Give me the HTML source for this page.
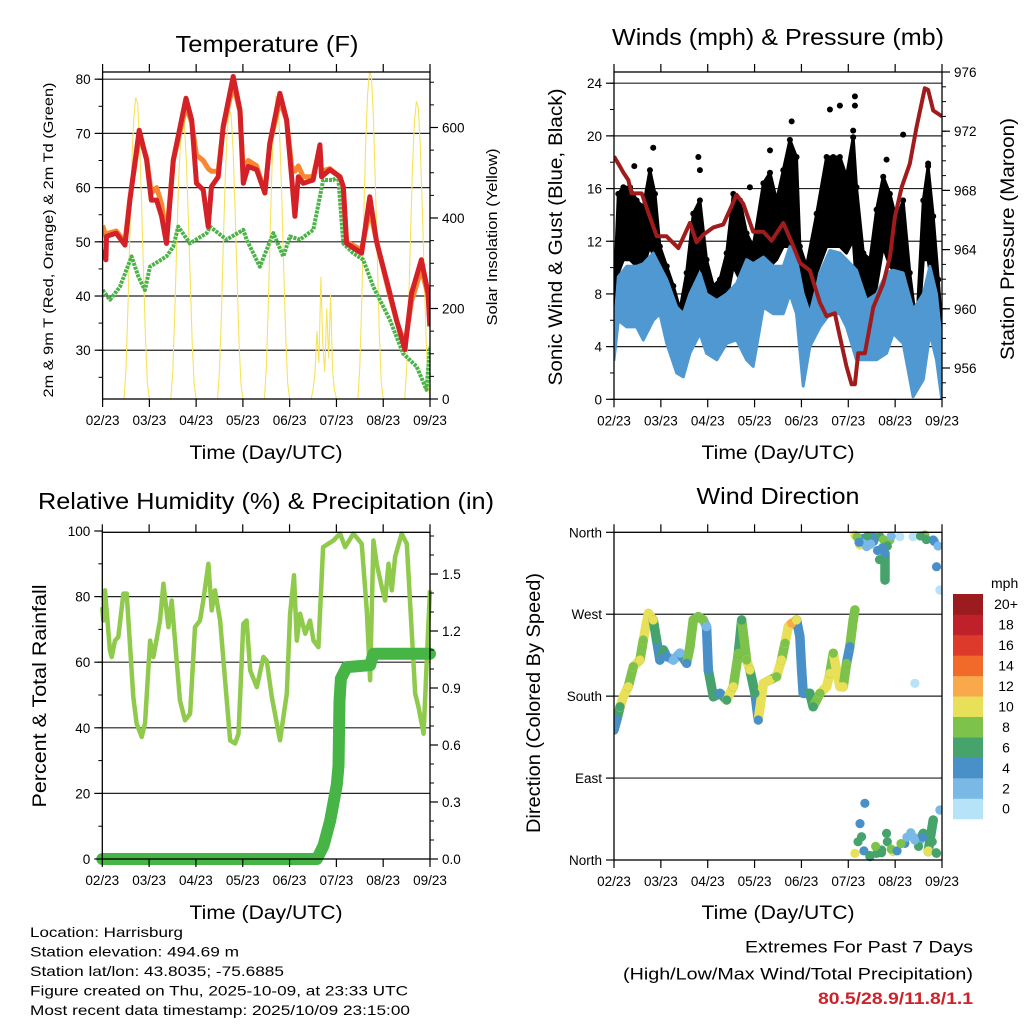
<!DOCTYPE html>
<html><head><meta charset="utf-8"><title>Station Meteogram</title>
<style>
html,body{margin:0;padding:0;background:#fff;}
svg{display:block;font-family:"Liberation Sans",Arial,sans-serif;}
</style></head>
<body>
<svg id="chart" xmlns="http://www.w3.org/2000/svg" width="1024" height="1024" viewBox="0 0 1024 1024">
<rect x="0" y="0" width="1024" height="1024" fill="#fff"/>
<g id="layer"></g>
<g id="texts" fill="#000">
  <text x="267" y="52" font-size="23" text-anchor="middle" textLength="183" lengthAdjust="spacingAndGlyphs">Temperature (F)</text>
  <text x="778" y="45" font-size="23" text-anchor="middle" textLength="332" lengthAdjust="spacingAndGlyphs">Winds (mph) &amp; Pressure (mb)</text>
  <text x="266" y="509" font-size="23" text-anchor="middle" textLength="456" lengthAdjust="spacingAndGlyphs">Relative Humidity (%) &amp; Precipitation (in)</text>
  <text x="778" y="504" font-size="23" text-anchor="middle" textLength="163" lengthAdjust="spacingAndGlyphs">Wind Direction</text>

  <text x="266" y="459" font-size="19" text-anchor="middle" textLength="153" lengthAdjust="spacingAndGlyphs">Time (Day/UTC)</text>
  <text x="778" y="459" font-size="19" text-anchor="middle" textLength="153" lengthAdjust="spacingAndGlyphs">Time (Day/UTC)</text>
  <text x="266" y="919" font-size="19" text-anchor="middle" textLength="153" lengthAdjust="spacingAndGlyphs">Time (Day/UTC)</text>
  <text x="778" y="919" font-size="19" text-anchor="middle" textLength="153" lengthAdjust="spacingAndGlyphs">Time (Day/UTC)</text>

  <text transform="translate(53,240) rotate(-90)" font-size="14" text-anchor="middle" textLength="315" lengthAdjust="spacingAndGlyphs">2m &amp; 9m T (Red, Orange) &amp; 2m Td (Green)</text>
  <text transform="translate(497,237) rotate(-90)" font-size="15" text-anchor="middle" textLength="177" lengthAdjust="spacingAndGlyphs">Solar Insolation (Yellow)</text>
  <text transform="translate(562,237) rotate(-90)" font-size="19" text-anchor="middle" textLength="297" lengthAdjust="spacingAndGlyphs">Sonic Wind &amp; Gust (Blue, Black)</text>
  <text transform="translate(1014,239) rotate(-90)" font-size="19" text-anchor="middle" textLength="242" lengthAdjust="spacingAndGlyphs">Station Pressure (Maroon)</text>
  <text transform="translate(46,696) rotate(-90)" font-size="19" text-anchor="middle" textLength="223" lengthAdjust="spacingAndGlyphs">Percent &amp; Total Rainfall</text>
  <text transform="translate(540,703) rotate(-90)" font-size="19" text-anchor="middle" textLength="260" lengthAdjust="spacingAndGlyphs">Direction (Colored By Speed)</text>

  <text x="991" y="588" font-size="14">mph</text>

  <text x="30" y="937" font-size="14" textLength="153" lengthAdjust="spacingAndGlyphs">Location: Harrisburg</text>
  <text x="30" y="956.5" font-size="14" textLength="209" lengthAdjust="spacingAndGlyphs">Station elevation: 494.69 m</text>
  <text x="30" y="976" font-size="14" textLength="254" lengthAdjust="spacingAndGlyphs">Station lat/lon: 43.8035; -75.6885</text>
  <text x="30" y="995.5" font-size="14" textLength="378" lengthAdjust="spacingAndGlyphs">Figure created on Thu, 2025-10-09, at 23:33 UTC</text>
  <text x="30" y="1015" font-size="14" textLength="380" lengthAdjust="spacingAndGlyphs">Most recent data timestamp: 2025/10/09 23:15:00</text>

  <text x="973" y="952.7" font-size="17" text-anchor="end" textLength="228" lengthAdjust="spacingAndGlyphs">Extremes For Past 7 Days</text>
  <text x="973" y="979.3" font-size="17" text-anchor="end" textLength="350" lengthAdjust="spacingAndGlyphs">(High/Low/Max Wind/Total Precipitation)</text>
  <text x="973" y="1004" font-size="17" font-weight="bold" fill="#cc2229" text-anchor="end" textLength="155" lengthAdjust="spacingAndGlyphs">80.5/28.9/11.8/1.1</text>
</g>
</svg>
<script>
// ---------- data ----------
const timeTickHours = [0,24,48,72,96,120,144,168];
const timeTickLabels = ['02/23','03/23','04/23','05/23','06/23','07/23','08/23','09/23'];

// Temperature (F)
const tempHours = [0,1.7,2,7,11.5,14,18.8,22.6,25,27.7,30.3,32.8,36.3,42.8,45.7,48.2,51.6,54.2,55.9,59.3,61.9,67,70.5,72.2,74.7,79,83.3,85.8,91,94.4,97,98.7,100.4,103,108,111.5,112.3,116.6,121.8,123.5,125.2,130.3,132.9,137.1,140.6,147.4,150.8,155.1,158.5,163.6,167,167.9];
const temp2m = [48.5,46.7,51,51.6,49.4,57.7,70.6,65.1,57.7,57.7,54.7,49.7,65.1,76.5,72.5,60.8,59.6,52.8,60.2,62,71.3,80.5,74.3,60.8,63.9,63.3,59,68.2,77.4,72.5,62,54.7,62,60.8,61.4,67.9,62,63.3,62,60.2,49.7,48.5,47.9,58.3,50,40.5,35.6,30.1,40.5,46.7,40.5,34.4];
const temp9m = [53,51,51.5,52,50,58,69.5,65.5,59,60,57,51,65,75,72,66,65,63.5,63,63,71,79,74,63,65,64,59,68,76,72.5,64,63,64,62,62,67.5,63,63.5,62,60,50,49,48.5,56,50,40,35.5,31,39,45,40,35];
const dewHours = [0,3.8,8.9,14.9,18.3,21.7,24.3,32.8,36.3,38.8,44.8,53.4,55.1,63.6,72.2,73.9,80.7,87.6,92.7,96.1,101.2,108.1,113.2,118.3,120.9,123.5,128.6,133.7,138.9,147.4,154.2,161.1,166.2,168];
const dewPoint = [41.1,39.3,41.7,47.3,43.6,41.1,45.4,47.3,49.1,52.8,49.7,51.6,52.8,50.4,52.2,50.4,45.4,51.6,47.3,51,50.4,52.2,61.4,61.4,62,49.7,47.9,46.7,41.7,35.6,29.4,27,22.7,30.7];
const solarHourly = [
0,0,0,0,0,0,0,0,0,0,0, 0,67,200,366,520,620,666,653,566,433,280,133,33,
0,0,0,0,0,0,0,0,0,0,0, 0,62,185,340,482,575,618,606,525,402,260,124,31,
0,0,0,0,0,0,0,0,0,0,0, 0,64,192,352,500,595,640,627,544,416,269,128,32,
0,0,0,0,0,0,0,0,0,0,0, 0,67,201,368,522,623,670,657,570,436,281,134,34,
0,0,0,0,0,0,0,0,0,0,0, 0,20,60,150,80,270,120,60,200,90,230,60,20,
0,0,0,0,0,0,0,0,0,0,0, 0,72,218,399,566,674,725,710,616,471,305,145,36,
0,0,0,0,0,0,0,0,0,0,0, 0,66,197,362,513,612,658,645,559,428,276,132,33,
0];
const tempTicks = [30,40,50,60,70,80];
const solarTicks = [0,200,400,600];

// Winds (mph)
const windHours = [0,2.2,6.5,11.6,15,20.1,23.5,27,32.1,35.5,38.9,44,47.4,52.6,57.7,62.8,67.9,71.3,76.5,81.6,86.7,90.1,93.5,96.9,100.3,105.5,110.6,115.7,119.1,124.2,129.4,134.5,139.6,143,148.1,153.2,158.4,161.8,165.2,167.8];
const windHigh = [5,9.3,10.1,10.1,10.3,11.1,10.1,9.1,7,6.5,8,9.6,8,7.5,8,8.8,10.6,10.3,10.8,10.1,10.1,11.6,10.6,8,6.5,9.6,11.3,11.1,10.6,9.8,7.5,8,9.6,9.8,9.6,6.8,8,10.1,8,4.25];
const windLow = [3,6,5.5,5.5,4.5,6,6.5,4.25,2,1.7,3.5,5,3.5,3,4.25,4.5,3,2.5,7,6.5,6.5,8,6.5,1,4,5.5,6.5,6.5,5.5,3,3,3,3.5,5,4.25,0.2,1.5,5,3,0.1];
const gustHours = [0,2.2,4.8,8.2,11.6,15,18.4,21,23.5,27,30.4,33.8,37.2,40.6,44,47.4,50.9,54.3,57.7,61.1,64.5,67.9,71.3,76.5,79.9,83.3,86.7,90.1,93.5,95.2,98.6,103.8,108.9,112.3,115.7,119.1,122.5,124.2,127.7,131.1,134.5,137.9,141.3,144.7,148.1,151.5,155,158.4,160.9,163.5,166.1,167.8];
const gustHigh = [7.5,15.6,16.1,16.1,15.1,14.6,17.4,15.6,11.6,10.1,8.6,6.8,9.6,14.1,15.1,10.6,8.6,9.1,11.1,15.6,15.1,12.6,11.6,16.4,17.2,15.1,17.4,19.7,18.4,11.6,10.1,14.1,18.4,18.4,18.4,16.9,19.9,16.1,11.1,10.6,14.4,16.9,15.6,13.6,15.1,9.6,5.5,15.1,17.7,13.9,9.1,5.5];
const gustLow = [4,9.6,10.6,10.6,10.1,10.1,11.6,10.6,7.5,6.5,5.5,4,5.5,8,10.6,6.5,6,7,7.5,10.1,9.1,8,7.5,10.6,10.1,10.6,11.6,11.6,10.6,8,5.5,9.6,11.6,11.6,11.6,11.1,12.1,8.6,7,6.5,8.6,11.6,10.1,9.6,9.3,6,3.5,10.6,10.6,8,5.5,0.1];
const gustPeakHours = [10.4,20.1,43.2,44,69.6,79.9,91,110.6,115.7,123.4,123.4,122.5,139.6,148.1,160.9];
const gustPeakValues = [17.7,19.1,18.4,17.4,16.1,18.9,21.1,22,22.3,23,22.3,20.4,18.2,20.1,17.9];
const pressHours = [0,3.1,4.8,7.3,9,14.2,18.4,21.9,26.9,33,38.9,42.3,45.7,50.9,56,62.8,66.2,71.3,76.5,80.7,86.7,91,95.2,100.3,105.5,108.9,113.1,114.9,119.1,121.7,123.4,125.1,128.5,132.8,137.9,141.3,143.9,147.3,151.5,155,159.2,160.9,163.5,168];
const pressure = [970.3,969.6,969.2,968.7,967.8,967.8,966.2,964.9,964.9,964.1,965.8,964.5,965,965.5,965.7,967.7,967.1,965.2,965.2,964.6,965.8,964.5,963.1,962.6,960.4,959.5,959.7,958.6,956.1,954.9,954.9,957,957,960.1,961.7,963.5,966.2,968.2,969.8,972.3,974.9,974.8,973.4,973];
const windTicks = [0,4,8,12,16,20,24];
const pressTicks = [956,960,964,968,972,976];

// Relative humidity & precipitation
const rhHours = [0,0.5,1.4,3.9,4.8,6.5,8.2,10.8,12.5,15.9,17.6,20.2,21.9,24.5,26.2,29.6,31.3,33.9,35.6,39.8,42.4,45,47.5,50.1,51.8,54.4,56.1,57.8,60.4,65.5,68.1,69.8,72.3,74,75.8,79.2,82.6,84.3,86.9,91.1,94.6,96.3,98.3,99.7,101.4,104,106.5,108.3,110.8,113.2,115.8,118.5,121.9,124.5,128.8,133,135.6,137.3,139,140.7,143.3,145,146.7,148.4,150.1,153.5,156.1,160.4,162.1,164.7,167.2,168];
const rhValues = [76.8,72.7,81.9,63.6,61.6,66.6,67.7,80.9,80.9,49.4,41.3,37.2,41.3,66.6,61.6,72.7,83.9,70.7,78.8,48.4,42.3,44.3,70.7,72.7,78.8,90,75.8,81.9,72.7,36.2,35.2,38.2,71.7,72.7,57.5,52.4,61.6,60.5,49.4,36.2,50.4,74.8,86.5,66.6,74.8,68.7,72.7,66.6,64.6,95.1,96.1,97.1,99.2,95.1,99.2,96.1,75.8,54.5,97.1,90,82.9,78.8,90,81.9,92.1,99.2,96.1,50.4,46.3,38.2,71.7,81.9];
const precipHours = [0,110,113.4,116.8,120.2,121.1,121.6,122.3,125.3,137.3,139,168];
const precipTotal = [0,0,0.07,0.2,0.39,0.49,0.83,0.95,1.01,1.02,1.08,1.08];
const rhTicks = [0,20,40,60,80,100];
const precipTicks = [0,0.3,0.6,0.9,1.2,1.5];
const precipTickLabels = ['0.0','0.3','0.6','0.9','1.2','1.5'];

// Wind direction (degrees) colored by speed (mph)
const dirHours = [0,1.4,3.1,4.8,7.3,9.9,13.3,15,17.6,20.1,21.8,23.5,25.3,27,30.4,33.8,37.2,38.9,40.6,43.2,45.7,47.4,48.3,50.9,54.3,57.7,61.1,63.7,65.4,67.9,69.6,72.2,73.9,76.5,79.9,83.3,85.8,87.6,89.3,91,93.5,95.2,96.1,96.9,100.3,102,105.5,108.9,110.6,112.3,115.7,117.4,119.1,120.8,122.5,123.4,123.4,123.4,125.9,126.8,127.7,128.5,129.4,131.1,132.8,134.5,136.2,137.1,138.8,138.8,139.6,141.3,143,146.4,149,153.2,153.2,154.1,156.7,158.4,159.2,160.9,163.5,163.5,165.2,165.2,166.9,166.9];
const dirValues = [142.8,153.8,168.4,179.4,190.4,212.4,219.7,241.7,271,263.7,241.7,219.7,230.7,223.4,219.7,227.1,216.1,234.4,263.7,267.3,263.7,256.3,208.7,179.4,183.1,175.8,190.4,227.1,263.7,219.7,208.7,183.1,153.8,194.1,197.8,201.4,219.7,238.1,256.3,260,263.7,245.3,208.7,183.1,183.1,168.4,183.1,190.4,205.1,227.1,190.4,190.4,216.1,234.4,263.7,274.7,357,7.3,346,25.6,353.4,62.3,344.2,3.7,355.2,7.3,355.2,11,336.9,307.6,29.3,351.5,9.2,355.2,18.3,355.2,25.6,194.1,22,29.3,357,9.2,43.9,351.5,7.3,322.2,54.9,296.6];
const dirSpeeds = [4.5,4.5,6.5,10.5,10.5,8.5,10.5,8.5,10.5,10.5,6.5,4.5,6.5,4.5,2.5,2.5,4.5,8.5,8.5,8.5,8.5,2.5,4.5,6.5,4.5,6.5,10.5,8.5,6.5,8.5,10.5,6.5,4.5,10.5,10.5,8.5,10.5,8.5,10.5,12.5,10.5,4.5,4.5,4.5,6.5,6.5,8.5,10.5,10.5,8.5,10.5,10.5,8.5,4.5,8.5,8.5,10.5,10.5,10.5,6.5,4.5,4.5,2.5,4.5,4.5,6.5,6.5,6.5,4.5,6.5,6.5,8.5,10.5,1,4.5,1,2.5,1,2.5,6.5,8.5,10.5,6.5,4.5,6.5,4.5,2.5,1];
const dirExtraHours = [126,128,130,133,135,136,138,140,142,157,160,164,166,124.5,125.5,131.5,137.5];
const dirExtraValues = [352,348,356,350,340,330,352,345,356,356,352,350,345,355,349,347,343];
const dirExtraSpeeds = [4.5,2.5,6.5,4.5,4.5,6.5,8.5,6.5,2.5,6.5,6.5,4.5,2.5,8.5,4.5,2.5,4.5];
const dirExtraHours2 = [125,126,128,131,134,137,140,142,145,150,152,156,158,161,163,165,147,154];
const dirExtraValues2 = [20,40,10,5,15,8,20,12,10,25,30,15,25,10,20,8,18,22];
const dirExtraSpeeds2 = [6.5,4.5,4.5,6.5,8.5,6.5,6.5,8.5,4.5,2.5,2.5,6.5,4.5,10.5,6.5,6.5,8.5,2.5];
const dirTicks = [0,90,180,270,360];
const dirTickLabels = ['North','East','South','West','North'];
const speedBins = [0,2,4,6,8,10,12,14,16,18,20];
const speedBinLabels = ['0','2','4','6','8','10','12','14','16','18','20+'];
const speedColors = ['#b6e3f8','#7ab9e5','#4a90c8','#45a36b','#7cc24b','#e9e05a','#f9a94b','#f26a2a','#de3a2c','#c0202a','#9b1b1e'];

// ---------- rendering ----------
const NS = 'http://www.w3.org/2000/svg';
const layer = document.getElementById('layer');
function mk(tag, parent, geo) {
  const e = document.createElementNS(NS, tag);
  for (const k in geo) e.setAttribute(k, geo[k]);
  parent.appendChild(e);
  return e;
}
const P1 = {x0:102.6, x1:430, y0:72, y1:399};
const P2 = {x0:614, x1:942, y0:72, y1:399.3};
const P3 = {x0:102.3, x1:430, y0:532.3, y1:859};
const P4 = {x0:614, x1:942, y0:532.3, y1:860};
function xs(p, t) { return p.x0 + t / 168 * (p.x1 - p.x0); }
function linScale(v0, y0, v1, y1) { return v => y0 + (v - v0) * (y1 - y0) / (v1 - v0); }
const yTemp = linScale(21, 399, 80, 79.2);
const ySolar = linScale(0, 399, 600, 127.5);
const yWind = linScale(0, 399.3, 24, 83.2);
const yPress = linScale(976, 72, 956, 368);
const yRH = linScale(0, 859, 100, 531);
const yPrecip = linScale(0, 859, 1.5, 574);
const yDir = linScale(0, 860, 360, 532.3);

function pts(p, hours, vals, ys) { return hours.map((t, i) => xs(p, t).toFixed(1) + ',' + ys(vals[i]).toFixed(1)).join(' '); }
function clipFor(p, id) {
  const cp = mk('clipPath', layer, {id: id});
  mk('rect', cp, {x: p.x0, y: p.y0 - 2, width: p.x1 - p.x0, height: p.y1 - p.y0 + 4});
  return 'url(#' + id + ')';
}
function grid(p, vals, ys, name) {
  const g = mk('g', layer, {});
  
  
  vals.forEach(v => {
    const y = ys(v);
    if (y > p.y0 + 0.5 && y < p.y1 - 0.5) mk('line', g, {x1: p.x0, x2: p.x1, y1: y, y2: y, stroke: '#222', 'stroke-width': 1.2});
  });
}
function frame(p, name) {
  const r = mk('rect', layer, {x: p.x0, y: p.y0, width: p.x1 - p.x0, height: p.y1 - p.y0, fill: 'none', stroke: '#000', 'stroke-width': 1.3});
  
  
}
function xAxis(p, name) {
  const g = mk('g', layer, {});
  
  
  timeTickHours.forEach((t, i) => {
    const x = xs(p, t);
    mk('line', g, {x1: x, x2: x, y1: p.y1, y2: p.y1 + 8, stroke: '#000', 'stroke-width': 1.2});
    mk('line', g, {x1: x, x2: x, y1: p.y0, y2: p.y0 - 8, stroke: '#000', 'stroke-width': 1.2});
    const tx = mk('text', g, {x: x, y: p.y1 + 26, 'font-size': 13.5, 'text-anchor': 'middle'});
    tx.textContent = timeTickLabels[i];
  });
}
function yAxis(p, side, vals, labels, ys, minor, name) {
  const g = mk('g', layer, {});
  
  
  const x = side === 'left' ? p.x0 : p.x1;
  const dir = side === 'left' ? -1 : 1;
  minor.forEach(v => {
    const y = ys(v);
    mk('line', g, {x1: x, x2: x + dir * 4, y1: y, y2: y, stroke: '#000', 'stroke-width': 1});
  });
  vals.forEach((v, i) => {
    const y = ys(v);
    mk('line', g, {x1: x, x2: x + dir * 8, y1: y, y2: y, stroke: '#000', 'stroke-width': 1.2});
    const tx = mk('text', g, {x: x + dir * 12, y: y + 5, 'font-size': 13.5, 'text-anchor': side === 'left' ? 'end' : 'start'});
    tx.textContent = labels[i];
  });
}
function range(a, b, s) { const r = []; for (let v = a; v <= b + 1e-9; v += s) r.push(+v.toFixed(3)); return r; }

// ===== Panel 1: Temperature =====
grid(P1, tempTicks, yTemp, 'temperature-gridlines');
const c1 = clipFor(P1, 'clip1');
const solarHours = solarHourly.map((v, i) => i);
const solarLine = mk('polyline', layer, {points: pts(P1, solarHours, solarHourly, ySolar), fill: 'none', stroke: '#f7e35a', 'stroke-width': 1.1, 'clip-path': c1});


const dewLine = mk('polyline', layer, {points: pts(P1, dewHours, dewPoint, yTemp), fill: 'none', stroke: '#4cb348', 'stroke-width': 4, 'stroke-dasharray': '3 1', 'stroke-linejoin': 'round', 'clip-path': c1});


const t9Line = mk('polyline', layer, {points: pts(P1, tempHours, temp9m, yTemp), fill: 'none', stroke: '#f7882f', 'stroke-width': 5, 'stroke-linejoin': 'round', 'clip-path': c1});


const t2Line = mk('polyline', layer, {points: pts(P1, tempHours, temp2m, yTemp), fill: 'none', stroke: '#d42027', 'stroke-width': 5, 'stroke-linejoin': 'round', 'clip-path': c1});


frame(P1, 'temperature-plot-frame');
xAxis(P1, 'temperature-x-axis');
yAxis(P1, 'left', tempTicks, tempTicks.map(String), yTemp, range(25, 80, 5), 'temperature-y-axis');
yAxis(P1, 'right', solarTicks, solarTicks.map(String), ySolar, range(0, 700, 50), 'solar-y-axis');

// ===== Panel 2: Winds & Pressure =====
grid(P2, windTicks, yWind, 'wind-gridlines');
const c2 = clipFor(P2, 'clip2');
const gustG = mk('g', layer, {'clip-path': c2});


const gustPoly = gustHours.map((t, i) => xs(P2, t).toFixed(1) + ',' + yWind(gustHigh[i]).toFixed(1))
  .concat(gustHours.map((t, i) => xs(P2, t).toFixed(1) + ',' + yWind(gustLow[i]).toFixed(1)).reverse()).join(' ');
mk('polygon', gustG, {points: gustPoly, fill: '#000', stroke: '#000', 'stroke-width': 3, 'stroke-linejoin': 'round'});
gustHours.forEach((t, i) => {
  const a = mk('circle', gustG, {cx: xs(P2, t), cy: yWind(gustHigh[i]), r: 3, fill: '#000'});
  
  
});
gustPeakHours.forEach((t, i) => {
  const a = mk('circle', gustG, {cx: xs(P2, t), cy: yWind(gustPeakValues[i]), r: 3, fill: '#000'});
  
  
});
const windPoly = windHours.map((t, i) => xs(P2, t).toFixed(1) + ',' + yWind(windHigh[i]).toFixed(1))
  .concat(windHours.map((t, i) => xs(P2, t).toFixed(1) + ',' + yWind(windLow[i]).toFixed(1)).reverse()).join(' ');
const windBand = mk('polygon', layer, {points: windPoly, fill: '#4f98d1', stroke: '#4f98d1', 'stroke-width': 3, 'stroke-linejoin': 'round', 'clip-path': c2});


const pressLine = mk('polyline', layer, {points: pts(P2, pressHours, pressure, yPress), fill: 'none', stroke: '#a01c1c', 'stroke-width': 4, 'stroke-linejoin': 'round', 'clip-path': c2});


frame(P2, 'winds-plot-frame');
xAxis(P2, 'winds-x-axis');
yAxis(P2, 'left', windTicks, windTicks.map(String), yWind, range(0, 24, 2), 'wind-y-axis');
yAxis(P2, 'right', pressTicks, pressTicks.map(String), yPress, range(954, 976, 1), 'pressure-y-axis');

// ===== Panel 3: RH & Precip =====
grid(P3, rhTicks, yRH, 'humidity-gridlines');
const rhLine = mk('polyline', layer, {points: pts(P3, rhHours, rhValues, yRH), fill: 'none', stroke: '#8fca4c', 'stroke-width': 4.5, 'stroke-linejoin': 'round'});


const prLine = mk('polyline', layer, {points: pts(P3, precipHours, precipTotal, yPrecip), fill: 'none', stroke: '#47b446', 'stroke-width': 12, 'stroke-linejoin': 'round', 'stroke-linecap': 'round'});


frame(P3, 'humidity-plot-frame');
xAxis(P3, 'humidity-x-axis');
yAxis(P3, 'left', rhTicks, rhTicks.map(String), yRH, range(0, 100, 10), 'humidity-y-axis');
yAxis(P3, 'right', precipTicks, precipTickLabels, yPrecip, range(0, 1.7, 0.1), 'precipitation-y-axis');

// ===== Panel 4: Wind direction =====
grid(P4, dirTicks, yDir, 'direction-gridlines');
const c4 = clipFor(P4, 'clip4');
function speedColor(s) { let k = 0; for (let i = 0; i < speedBins.length; i++) if (s >= speedBins[i]) k = i; return speedColors[k]; }
const dirG = mk('g', layer, {'clip-path': c4});


dirHours.forEach((t, i) => {
  if (i > 0 && Math.abs(dirValues[i] - dirValues[i - 1]) < 60 && t - dirHours[i - 1] < 6) {
    mk('line', dirG, {x1: xs(P4, dirHours[i - 1]), y1: yDir(dirValues[i - 1]), x2: xs(P4, t), y2: yDir(dirValues[i]), stroke: speedColor(dirSpeeds[i]), 'stroke-width': 9.5, 'stroke-linecap': 'round'});
  }
});
dirHours.forEach((t, i) => {
  const c = mk('circle', dirG, {cx: xs(P4, t), cy: yDir(dirValues[i]), r: 4.6, fill: speedColor(dirSpeeds[i])});
  
  
});
dirExtraHours.forEach((t, i) => {
  const c = mk('circle', dirG, {cx: xs(P4, t), cy: yDir(dirExtraValues[i]), r: 4.6, fill: speedColor(dirExtraSpeeds[i])});
  
  
});
dirExtraHours2.forEach((t, i) => {
  const c = mk('circle', dirG, {cx: xs(P4, t), cy: yDir(dirExtraValues2[i]), r: 4.6, fill: speedColor(dirExtraSpeeds2[i])});
  
  
});
frame(P4, 'direction-plot-frame');
xAxis(P4, 'direction-x-axis');
yAxis(P4, 'left', dirTicks, dirTickLabels, yDir, [], 'direction-y-axis');

// Legend (colorbar)
const lg = mk('g', layer, {});


const boxH = 20.45, legTop = 594;
speedBins.forEach((b, i) => {
  const row = speedBins.length - 1 - i;
  const r = mk('rect', lg, {x: 953, y: legTop + row * boxH, width: 30, height: boxH + 0.3, fill: speedColors[i]});
  
  
  const tx = mk('text', lg, {x: 1006, y: legTop + row * boxH + boxH / 2 + 5, 'font-size': 14, 'text-anchor': 'middle'});
  tx.textContent = speedBinLabels[i];
  
  
});
</script>
</body></html>
